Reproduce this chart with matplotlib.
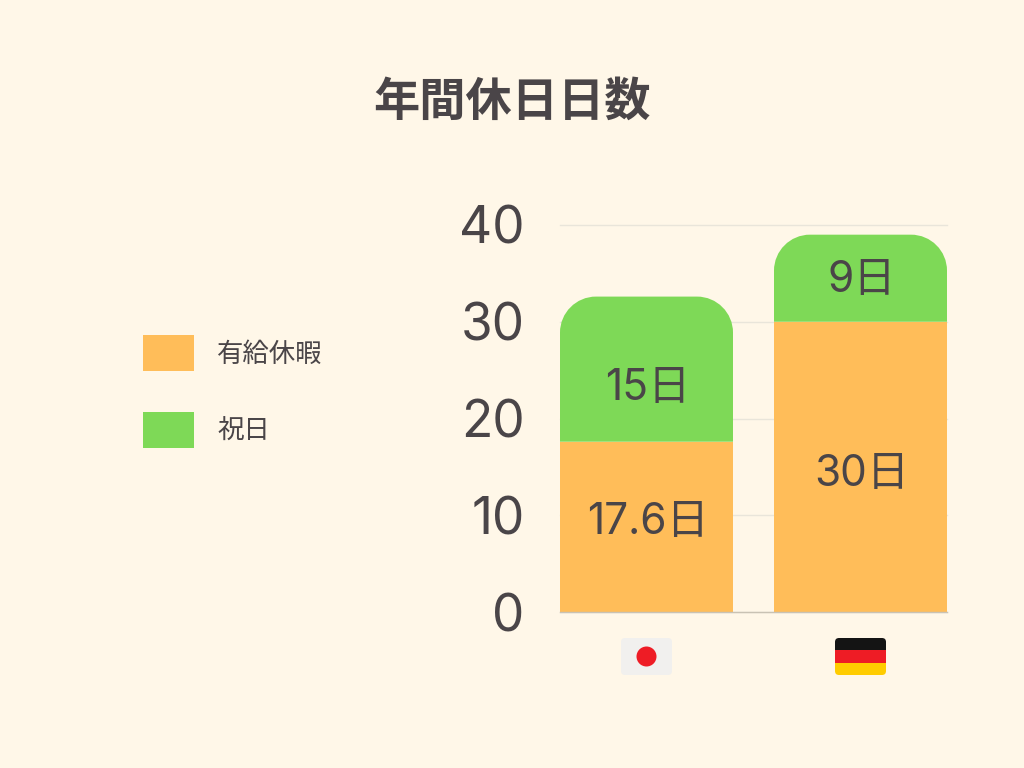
import matplotlib
matplotlib.use("Agg")
import matplotlib.pyplot as plt
from matplotlib.patches import PathPatch, Patch, Rectangle, Circle, FancyBboxPatch
from matplotlib.path import Path
from matplotlib.transforms import IdentityTransform

plt.rcParams['font.family'] = ['Inter', 'Noto Sans CJK JP', 'DejaVu Sans']

title = "年間休日日数"
series_names = ["有給休暇", "祝日"]
paid_leave = [17.6, 30]
holidays = [15, 9]
paid_labels = ["17.6日", "30日"]
holiday_labels = ["15日", "9日"]
paid_label_y = [9.2, 14.2]
holiday_label_y = [23.1, 34.3]
y_ticks = [0, 10, 20, 30, 40]

BG = "#FFF7E8"
ORANGE = "#FFBD59"
GREEN = "#7ED957"
TEXT = "#4A4548"
GRID = "#E9E5DA"

W, H = 1024, 768
fig = plt.figure(figsize=(W / 100, H / 100), dpi=100, facecolor=BG)
ax = fig.add_axes([560 / W, (H - 612) / H, 387 / W, 387 / H], facecolor=BG)

xs = [0, 1]
bar_w = 173 / 214
ax.set_xlim(-bar_w / 2, 1 + bar_w / 2)
ax.set_ylim(0, 40)
for s in ax.spines.values():
    s.set_visible(False)
ax.spines['bottom'].set_visible(True)
ax.spines['bottom'].set_color("#C9C2B4")
ax.spines['bottom'].set_linewidth(1)
ax.set_xticks([])
ax.set_yticks(y_ticks)
ax.set_yticklabels([str(t) for t in y_ticks], fontsize=37, color=TEXT)
ax.tick_params(axis='y', length=0, pad=25.5)
ax.set_axisbelow(True)
ax.grid(axis='y', color=GRID, linewidth=1)
for gl in ax.get_ygridlines():
    gl.set_clip_on(False)

ax.bar(xs, paid_leave, width=bar_w, color=ORANGE, linewidth=0, zorder=2)


def rounded_top(x, bottom, top, width, rx, ry):
    l, r = x - width / 2, x + width / 2
    k = 0.5523
    verts = [(l, bottom), (l, top - ry),
             (l, top - ry + k * ry), (l + rx - k * rx, top), (l + rx, top),
             (r - rx, top),
             (r - rx + k * rx, top), (r, top - ry + k * ry), (r, top - ry),
             (r, bottom), (l, bottom)]
    codes = [Path.MOVETO, Path.LINETO, Path.CURVE4, Path.CURVE4, Path.CURVE4,
             Path.LINETO, Path.CURVE4, Path.CURVE4, Path.CURVE4,
             Path.LINETO, Path.CLOSEPOLY]
    return Path(verts, codes)


rx = 36 / 214
ry = 36 * 40 / 387
for x, p, h in zip(xs, paid_leave, holidays):
    ax.add_patch(PathPatch(rounded_top(x, p, p + h, bar_w, rx, ry),
                           facecolor=GREEN, edgecolor='none', zorder=2))

for x, y, s in zip(xs, paid_label_y, paid_labels):
    ax.text(x + 0.008, y, s, ha='center', va='center', fontsize=30.5, color=TEXT, zorder=3)
for x, y, s in zip(xs, holiday_label_y, holiday_labels):
    ax.text(x + 0.008, y, s, ha='center', va='center', fontsize=30.5, color=TEXT, zorder=3)

fig.text(512.5 / W, 1 - 104 / H, title, ha='center', va='center', fontsize=33.3,
         fontweight='bold', color=TEXT)

handles = [Patch(facecolor=ORANGE, edgecolor='none'), Patch(facecolor=GREEN, edgecolor='none')]
fs = 19
em = fs * 100 / 72
leg = fig.legend(handles, series_names, loc='upper left',
                 bbox_to_anchor=(143 / W, 1 - 335 / H), frameon=False, fontsize=fs,
                 labelcolor=TEXT, borderpad=0, borderaxespad=0,
                 handlelength=51 / em, handleheight=1.72,
                 handletextpad=23 / em, labelspacing=41 / em)

# Flags under each bar (pixel-sized icons centred on the category position)
fig.canvas.draw()
cx = [ax.transData.transform((x, 0))[0] for x in xs]
ID = IdentityTransform()
fw, fh = 51, 37
ftop, fbot = H - 638, H - 675


def flag_box(c, color):
    return FancyBboxPatch((c - fw / 2 + 4, fbot + 4), fw - 8, fh - 8,
                          boxstyle="round,pad=4,rounding_size=4",
                          facecolor=color, edgecolor='none', transform=ID)


jp = flag_box(cx[0], "#F1F0EE")
fig.add_artist(jp)
fig.add_artist(Circle((cx[0], (ftop + fbot) / 2), 10, facecolor="#EE1C25", edgecolor='none', transform=ID))

de_clip = flag_box(cx[1], "none")
for i, col in enumerate(["#141414", "#EE1C25", "#FFCC00"]):
    r = Rectangle((cx[1] - fw / 2, ftop - (i + 1) * fh / 3), fw, fh / 3,
                  facecolor=col, edgecolor='none', transform=ID)
    fig.add_artist(r)
    r.set_clip_path(de_clip.get_path(), de_clip.get_transform())

fig.savefig("out.png", dpi=100, facecolor=BG)
